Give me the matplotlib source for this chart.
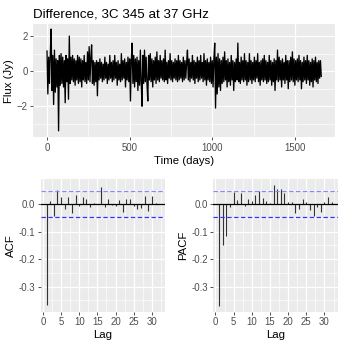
import numpy as np
import matplotlib
matplotlib.use('Agg')
import matplotlib.pyplot as plt
from matplotlib.ticker import MultipleLocator

plt.rcParams['font.family'] = ['Liberation Sans', 'DejaVu Sans']

# Differenced flux series, every 5 days
step_days = 5
flux = [
    1.15, -1.3, 0.8, -0.7, 1.0, 2.4, -1.1, 0.9, -1.9, 1.2, -1.2, 0.7, -0.9, 0.6, -3.4, 0.9, -0.8, 1.0, -0.7, 0.8,
    -0.9, 0.6, -1.8, 0.9, -0.6, 0.7, -1.6, 2.0, -0.7, 0.8, -0.5, 0.9, -0.6, 0.7, -0.8, 0.6, -0.5, 0.9, -0.7, 0.8,
    -0.6, 0.7, -0.9, 0.6, -0.5, 0.9, -0.6, 0.5, -0.7, 1.1, -0.5, 1.4, -0.6, 0.8, 1.5, -0.7, 0.6, -0.8, 0.5, -0.6,
    0.6, -1.4, 0.5, -0.5, 0.7, -0.4, 0.5, -0.6, 0.4, -0.5, 0.8, -0.4, 0.5, -0.7, 0.4, -0.5, 0.9, -0.4, 0.5, -0.6,
    0.6, -0.5, 0.9, -0.4, 0.5, -0.8, 0.6, -0.5, 0.4, -0.6, 1.0, -0.5, 0.6, -0.4, 0.7, -0.9, 0.5, -0.5, 0.8, -0.6,
    0.7, -1.7, 0.6, 1.6, -0.7, 0.9, -0.9, 0.7, -0.6, 0.8, -1.1, 0.6, -0.8, 1.2, -0.6, -2.0, 0.9, -0.7, 1.2, -0.6,
    0.8, -0.7, -1.7, 0.9, -0.5, 1.0, -0.6, 0.7, -0.9, 0.6, -0.5, 0.8, -0.7, 1.1, -0.5, 0.6, -0.6, 0.9, -0.4, 0.6,
    -0.5, 0.7, -0.6, 1.2, -0.5, 0.5, -0.7, 0.6, -0.4, 1.0, -0.5, 0.6, -0.6, 0.5, -0.4, 0.7, -0.5, 0.6, -0.6, 0.9,
    -0.5, 0.6, -0.4, 0.5, -0.6, 0.8, -0.5, 0.6, -0.4, 0.5, 1.2, -0.5, 0.7, -0.6, 0.5, -0.4, 0.9, -0.5, 0.6, -0.7,
    0.5, -0.4, 0.8, -0.6, 0.6, -0.5, 0.9, -0.4, 0.5, -0.6, 1.0, -0.5, 0.6, -0.8, 0.7, -0.5, 0.5, -0.6, 0.8, -0.7,
    0.6, -0.9, 0.7, 1.6, -2.1, 0.8, -1.3, 1.0, -0.9, 0.7, -1.1, 0.6, -0.7, 0.8, -0.6, 1.1, -0.5, 0.6, -0.9, 0.7,
    -0.6, 0.5, -0.8, 0.9, -0.5, 0.6, -1.1, 0.5, -0.6, 0.7, -0.5, 1.6, -0.6, 0.5, -0.7, 0.8, -0.5, 0.6, -0.6, 1.0,
    -0.5, 0.6, -0.8, 0.5, -0.6, 1.0, -0.5, 0.6, -0.7, 0.5, -0.5, 0.8, -0.6, 0.6, -0.4, 1.0, -0.6, 0.5, -0.8, 0.6,
    -0.5, 0.7, -0.6, 0.9, -0.5, 0.6, -0.7, 0.5, -0.6, 0.9, -0.5, 0.6, -0.8, 0.5, -0.6, 0.7, -1.1, 0.6, -0.5, 1.2,
    -0.6, 0.8, -0.5, 0.6, -0.9, 0.7, -0.5, 0.5, -0.7, 0.9, -0.5, 0.6, -1.0, 0.6, -0.6, 0.8, -0.5, 1.1, -0.6, 0.7,
    -0.8, 0.6, -0.5, 0.7, -0.6, 0.9, -0.5, 0.6, -1.0, 0.5, -0.6, 0.8, -0.5, 0.6, -0.7, 0.9, -0.5, 0.6, -0.8, 0.5,
    -0.6, 0.7, -0.9, 0.6, -0.5, 0.8, -0.6, 0.5, -0.7, 0.6, -0.4, 0.6, -0.3,
]
days = np.arange(len(flux)) * step_days

lags = np.arange(1, 33)
acf_vals = [-0.366, 0.011, -0.042, 0.051, 0.027, -0.019, 0.027, -0.034, 0.033, -0.007,
            0.027, 0.017, -0.010, 0.002, 0.001, 0.063, -0.010, 0.017, -0.003, -0.006,
            0.014, -0.028, 0.018, 0.018, -0.007, -0.019, -0.014, 0.029, -0.024, 0.030,
            0.002, 0.001]
pacf_vals = [-0.370, -0.149, -0.118, -0.011, 0.042, 0.014, 0.039, -0.006, 0.018, 0.012,
             0.033, 0.047, 0.020, 0.011, 0.002, 0.069, 0.053, 0.053, 0.039, 0.007,
             0.007, -0.031, -0.018, 0.018, 0.007, -0.022, -0.043, -0.010, -0.028, 0.007,
             0.027, 0.007]
n_obs = 1660
ci = 1.96 / np.sqrt(n_obs)

BG = '#EBEBEB'
TICK_COL = '#4D4D4D'


def gg_style(ax):
    ax.set_facecolor(BG)
    for s in ax.spines.values():
        s.set_visible(False)
    ax.grid(True, which='major', color='white', lw=0.9)
    ax.grid(True, which='minor', color='white', lw=0.45)
    ax.set_axisbelow(True)
    ax.tick_params(which='major', length=2.5, width=0.6, color='#333333',
                   labelsize=6.9, labelcolor=TICK_COL, pad=1.5)
    ax.tick_params(which='minor', length=0)


fig = plt.figure(figsize=(3.42, 3.48), dpi=100)
W, H = 342, 348


def px_axes(left, top, right, bottom):
    return fig.add_axes([left / W, 1 - bottom / H, (right - left) / W, (bottom - top) / H])


# Top: the series
ax = px_axes(33.3, 24, 335, 137.3)
gg_style(ax)
ax.plot(days, flux, color='black', lw=0.95)
ax.set_xlim(-83, 1743)
ax.set_ylim(-3.77, 2.69)
ax.xaxis.set_major_locator(MultipleLocator(500))
ax.xaxis.set_minor_locator(MultipleLocator(250))
ax.yaxis.set_major_locator(MultipleLocator(2))
ax.yaxis.set_minor_locator(MultipleLocator(1))
ax.set_xlabel('Time (days)', fontsize=8.2, labelpad=2)
ax.set_ylabel('Flux (Jy)', fontsize=8.2, labelpad=2)
ax.set_title('Difference, 3C 345 at 37 GHz', fontsize=9.6, loc='left', pad=5, x=-0.0)

# Bottom: ACF and PACF
for (left, right), vals, name in [((40.7, 165), acf_vals, 'ACF'),
                                  ((213.3, 337.5), pacf_vals, 'PACF')]:
    a = px_axes(left, 179.3, right, 311.7)
    gg_style(a)
    a.vlines(lags, 0, vals, color='#333333', lw=0.8)
    a.axhline(0, color='black', lw=0.9)
    a.axhline(ci, color='#8888FF', lw=0.9, ls=(0, (3.5, 2)))
    a.axhline(-ci, color='#3333FF', lw=0.9, ls=(0, (3.5, 2)))
    a.set_xlim(-0.6, 33.6)
    a.set_ylim(-0.391, 0.0895)
    a.xaxis.set_major_locator(MultipleLocator(5))
    a.xaxis.set_minor_locator(MultipleLocator(2.5))
    a.yaxis.set_major_locator(MultipleLocator(0.1))
    a.yaxis.set_minor_locator(MultipleLocator(0.05))
    a.yaxis.set_major_formatter(plt.FuncFormatter(lambda v, p: f'{v:.1f}'))
    a.set_xlabel('Lag', fontsize=8.2, labelpad=2)
    a.set_ylabel(name, fontsize=8.2, labelpad=2)

fig.savefig('out.png', dpi=100)
